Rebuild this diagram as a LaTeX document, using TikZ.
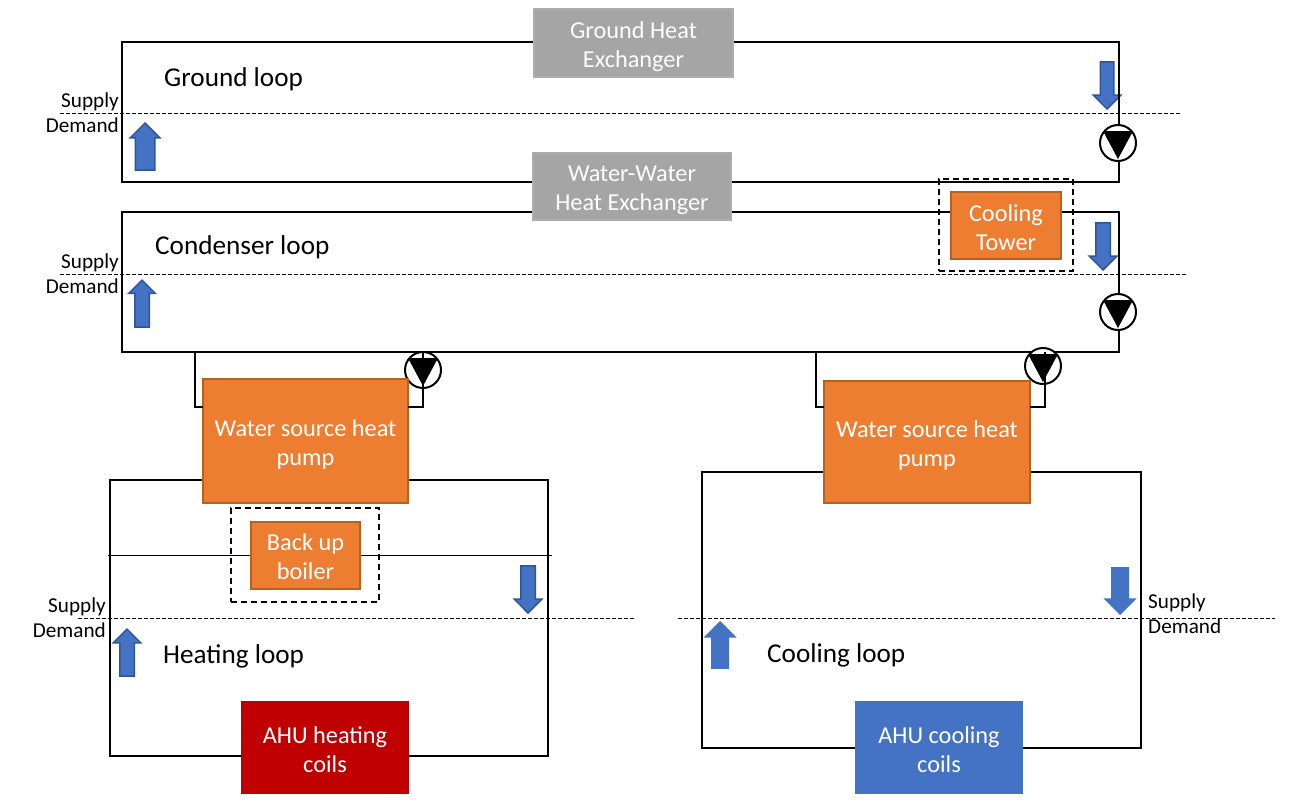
\documentclass[tikz,border=0pt]{standalone}
\usepackage{fontspec}
\setmainfont{Carlito}
\usetikzlibrary{shapes.arrows}

\definecolor{boxOrange}{HTML}{ED7D31}
\definecolor{edgeOrange}{HTML}{B7611F}
\definecolor{boxGray}{HTML}{A5A5A5}
\definecolor{edgeGray}{HTML}{ADADAD}
\definecolor{boxRed}{HTML}{C00000}
\definecolor{boxBlue}{HTML}{4472C4}
\definecolor{edgeBlue}{HTML}{2F5597}

\def\bodySize{\fontsize{24.3}{29}\selectfont}
\def\nameSize{\fontsize{27.2}{32}\selectfont}
\def\sideSize{\fontsize{21.2}{25}\selectfont}
\def\unitText#1#2{\rule{0pt}{29pt}#1\\#2\rule[-9pt]{0pt}{9pt}}

\tikzset{
  loopbox/.style={draw=black,line width=2pt,inner sep=0pt,outer sep=0pt},
  loopline/.style={draw=black,line width=2pt},
  divider/.style={draw=black,line width=1pt,dash pattern=on 4pt off 2pt},
  standby/.style={draw=black,line width=2pt,dash pattern=on 6pt off 4pt,inner sep=0pt},
  unit/.style={text=white,align=center,inner sep=0pt,outer sep=0pt,font=\bodySize,line width=2pt},
  orangeunit/.style={unit,fill=boxOrange,draw=edgeOrange},
  grayunit/.style={unit,fill=boxGray,draw=edgeGray},
  flow/.style={single arrow,fill=boxBlue,line width=1.5pt,inner xsep=0pt,
    single arrow head indent=0pt},
  pumpring/.style={circle,draw=black,line width=2pt,minimum size=36pt,inner sep=0pt},
  looplabel/.style={font=\nameSize,inner sep=0pt,anchor=west},
  sidelabel/.style={font=\sideSize,inner sep=0pt}
}

\begin{document}
\begin{tikzpicture}[x=1pt,y=-1pt]
    \useasboundingbox (0,0) rectangle (1311,808);

    % flow arrows: name/tip x/tip y/length/half shaft/extend/angle/edge
    \foreach \n/\x/\y/\l/\w/\e/\a/\c in {
      arrowGroundUp/145/122/47/9/5/90/edgeBlue,
      arrowGroundDown/1107/110/47/6/7/-90/edgeBlue,
      arrowCondUp/142/279/47/6.5/6/90/edgeBlue,
      arrowCondDown/1103/271/47/6.5/6.5/-90/edgeBlue,
      arrowHeatUp/127/628/47/6.5/6.5/90/edgeBlue,
      arrowHeatDown/528/614/47/6.5/6.5/-90/edgeBlue,
      arrowCoolUp/720/621/46/7.5/6.5/90/boxBlue,
      arrowCoolDown/1120/615/46/7.5/6.5/-90/boxBlue} {
      \node[flow,draw=\c,minimum height=\l pt,inner ysep=\w pt,single arrow head extend=\e pt,
        rotate=\a,anchor=tip] (\n) at (\x,\y) {};
    }

    % the loops
    \node[loopbox,minimum width=997pt,minimum height=140pt] (loopGround) at (620.5,112) {};
    \node[loopbox,minimum width=997pt,minimum height=140pt] (loopCond) at (620.5,282) {};
    \node[loopbox,minimum width=438pt,minimum height=276pt] (loopHeat) at (329,618) {};
    \node[loopbox,minimum width=439pt,minimum height=276pt] (loopCool) at (921.5,610) {};

    % pumps go under the pipes
    \foreach \n/\x/\y in {pumpGround/1118/143,pumpCond/1118/312,pumpHeat/423/370,pumpCool/1043/366} {
      \node[pumpring,fill=white] (\n) at (\x,\y) {};
    }

    % units
    \node[grayunit,minimum width=199pt,minimum height=67pt] (hxGround) at (633.5,43) {\unitText{Ground Heat}{Exchanger}};
    \node[grayunit,minimum width=198pt,minimum height=67pt] (hxWater) at (632,186) {\unitText{Water-Water}{Heat Exchanger}};
    \node[orangeunit,minimum width=110pt,minimum height=67pt] (tower) at (1006,225.5) {\unitText{Cooling}{Tower}};
    \node[orangeunit,minimum width=205pt,minimum height=124pt] (hpHeat) at (305.5,440.5) {\unitText{Water source heat}{pump}};
    \node[orangeunit,minimum width=206pt,minimum height=122pt] (hpCool) at (927,441.5) {\unitText{Water source heat}{pump}};
    \coordinate (railWest) at (108,555);
    \coordinate (railEast) at (552,555);
    \draw[draw=black,line width=1pt] (railWest) -- (railEast);
    \node[orangeunit,minimum width=109pt,minimum height=65pt] (boiler) at (305.5,555) {\unitText{Back up}{boiler}};
    \node[unit,fill=boxRed,minimum width=168pt,minimum height=93pt] (coilHeat) at (325,747.5) {\unitText{AHU heating}{coils}};
    \node[unit,fill=boxBlue,minimum width=168pt,minimum height=93pt] (coilCool) at (939,747.5) {\unitText{AHU cooling}{coils}};

    % standby frames
    \node[standby,minimum width=134pt,minimum height=92pt] (frameTower) at (1006,225) {};
    \node[standby,minimum width=148pt,minimum height=94pt] (frameBoiler) at (305,555) {};

    % links between condenser loop and heat pumps
    \coordinate (tapHeatA) at (195,352);
    \coordinate (tapHeatB) at (423,352);
    \coordinate (tapCoolA) at (816,352);
    \coordinate (tapCoolB) at (1045,352);
    \coordinate (rowHeat) at (0,407);
    \draw[loopline] (tapHeatA) |- (hpHeat.west |- rowHeat);
    \draw[loopline] (hpHeat.east |- rowHeat) -| (tapHeatB);
    \draw[loopline] (tapCoolA) |- (hpCool.west |- rowHeat);
    \draw[loopline] (hpCool.east |- rowHeat) -| (tapCoolB);

    % pump triangles
    \foreach \n in {pumpGround,pumpCond,pumpHeat,pumpCool} {
      \fill[black] ([shift={(-15,-12)}]\n.center) -- ([shift={(15,-12)}]\n.center) -- ([shift={(0,16)}]\n.center) -- cycle;
    }

    % supply / demand lines
    \foreach \n/\xa/\xb/\y in {Ground/60/1180/113,Cond/60/1187/274,Heat/78/635/618,Cool/678/1275/618} {
      \coordinate (split\n A) at (\xa,\y);
      \coordinate (split\n B) at (\xb,\y);
      \draw[divider] (split\n A) -- (split\n B);
    }

    \foreach \n/\x/\ya/\yb in {Ground/119/102/125.5,Cond/119/263/286.5,Heat/106/607/630.5} {
      \node[sidelabel,anchor=east] (supply\n) at (\x,\ya) {Supply};
      \node[sidelabel,anchor=east] (demand\n) at (\x,\yb) {Demand};
    }
    \node[sidelabel,anchor=west] (supplyCool) at (1148,603) {Supply};
    \node[sidelabel,anchor=west] (demandCool) at (1148,626.5) {Demand};

    \node[looplabel] (nameGround) at (164,79) {Ground loop};
    \node[looplabel] (nameCond) at (155,247) {Condenser loop};
    \node[looplabel] (nameHeat) at (163,656) {Heating loop};
    \node[looplabel] (nameCool) at (767,655) {Cooling loop};
  \end{tikzpicture}
\end{document}
